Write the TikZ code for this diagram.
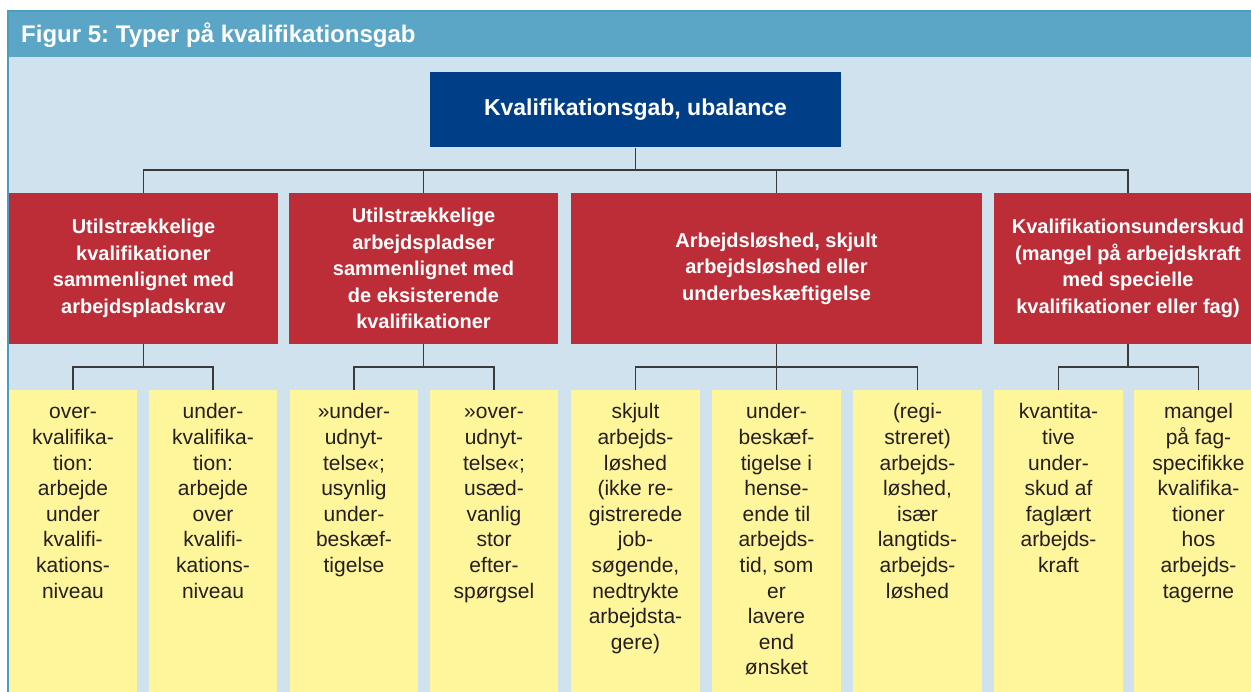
\documentclass[tikz,border=0pt]{standalone}
\usepackage{fontspec}
\setmainfont{Liberation Sans}
\frenchspacing
\definecolor{titlebar}{HTML}{5BA6C6}
\definecolor{frameblue}{HTML}{4A9DBE}
\definecolor{bgblue}{HTML}{CFE2EE}
\definecolor{darkblue}{HTML}{003F87}
\definecolor{boxred}{HTML}{BD2D37}
\definecolor{boxyellow}{HTML}{FFF59B}
\definecolor{linegray}{HTML}{3A3A3A}
\definecolor{textdark}{HTML}{231F20}
\begin{document}
\begin{tikzpicture}[x=1pt,y=-1pt,
  topbox/.style={fill=darkblue, text=white, inner sep=0pt, minimum width=411pt, minimum height=75.5pt, font=\fontsize{23}{28}\selectfont\bfseries},
  redbox/.style={fill=boxred, text=white, inner sep=0pt, minimum height=151pt, align=center, font=\fontsize{20}{26.5}\selectfont\bfseries},
  ybox/.style={fill=boxyellow, inner sep=0pt, minimum width=128.5pt, minimum height=310pt},
  ytext/.style={anchor=north, inner sep=0pt, align=center, text=textdark, font=\fontsize{21}{25.6}\selectfont},
  conn/.style={draw=linegray, line width=1.2pt}
]
\useasboundingbox (0,0) rectangle (1251,692);
\clip (0,0) rectangle (1251,692);
% frame
\fill[bgblue] (8,57) rectangle (1251,692);
\fill[titlebar] (8,10) rectangle (1251,57);
\draw[frameblue, line width=2pt] (8,692) -- (8,11) -- (1251,11);
\node[anchor=base west, inner sep=0pt, text=white, font=\fontsize{24}{28}\selectfont\bfseries] (title) at (21,43) {Figur 5: Typer på kvalifikationsgab};

% top box
\node[topbox] (top) at (635.5,109.75) {Kvalifikationsgab, ubalance};

% red boxes
\node[redbox, minimum width=269pt] (r1) at (143.5,268.5) {Utilstrækkelige\\kvalifikationer\\sammenlignet med\\arbejdspladskrav};
\node[redbox, minimum width=269pt] (r2) at (423.5,268.5) {Utilstrækkelige\\arbejdspladser\\sammenlignet med\\de eksisterende\\kvalifikationer};
\node[redbox, minimum width=411pt] (r3) at (776.5,268.5) {Arbejdsløshed, skjult\\arbejdsløshed eller\\underbeskæftigelse};
\node[redbox, minimum width=268pt] (r4) at (1128,268.5) {Kvalifikationsunderskud\\(mangel på arbejdskraft\\med specielle\\kvalifikationer eller fag)};

% yellow boxes
\node[ybox] (y1) at (73,545) {};
\node[ybox] (y2) at (213,545) {};
\node[ybox] (y3) at (354,545) {};
\node[ybox] (y4) at (494,545) {};
\node[ybox] (y5) at (635.5,545) {};
\node[ybox] (y6) at (776.5,545) {};
\node[ybox] (y7) at (917.5,545) {};
\node[ybox] (y8) at (1058.5,545) {};
\node[ybox] (y9) at (1198.5,545) {};

\node[ytext] (t1) at ([yshift=-11pt]y1.north) {\strut over-\\kvalifika-\\tion:\\arbejde\\under\\kvalifi-\\kations-\\niveau};
\node[ytext] (t2) at ([yshift=-11pt]y2.north) {\strut under-\\kvalifika-\\tion:\\arbejde\\over\\kvalifi-\\kations-\\niveau};
\node[ytext] (t3) at ([yshift=-11pt]y3.north) {\strut »under-\\udnyt-\\telse«;\\usynlig\\under-\\beskæf-\\tigelse};
\node[ytext] (t4) at ([yshift=-11pt]y4.north) {\strut »over-\\udnyt-\\telse«;\\usæd-\\vanlig\\stor\\efter-\\spørgsel};
\node[ytext] (t5) at ([yshift=-11pt]y5.north) {\strut skjult\\arbejds-\\løshed\\(ikke re-\\gistrerede\\job-\\søgende,\\nedtrykte\\arbejdsta-\\gere)};
\node[ytext] (t6) at ([yshift=-11pt]y6.north) {\strut under-\\beskæf-\\tigelse i\\hense-\\ende til\\arbejds-\\tid, som\\er\\lavere\\end\\ønsket};
\node[ytext] (t7) at ([yshift=-11pt]y7.north) {\strut (regi-\\streret)\\arbejds-\\løshed,\\især\\langtids-\\arbejds-\\løshed};
\node[ytext] (t8) at ([yshift=-11pt]y8.north) {\strut kvantita-\\tive\\under-\\skud af\\faglært\\arbejds-\\kraft};
\node[ytext] (t9) at ([yshift=-11pt]y9.north) {\strut mangel\\på fag-\\specifikke\\kvalifika-\\tioner\\hos\\arbejds-\\tagerne};

% bus coordinates
\coordinate (bus0) at (0,170);
\coordinate (bus1) at (0,367);

% connectors level 1
\draw[conn] (top.south) -- (top.south |- bus0) -| (r1.north);
\draw[conn] (top.south |- bus0) -| (r2.north);
\draw[conn] (top.south |- bus0) -| (r3.north);
\draw[conn] (top.south |- bus0) -| (r4.north);

% connectors level 2
\draw[conn] (r1.south) -- (r1.south |- bus1) -| (y1.north);
\draw[conn] (r1.south |- bus1) -| (y2.north);
\draw[conn] (r2.south) -- (r2.south |- bus1) -| (y3.north);
\draw[conn] (r2.south |- bus1) -| (y4.north);
\draw[conn] (r3.south) -- (r3.south |- bus1) -| (y5.north);
\draw[conn] (r3.south |- bus1) -- (y6.north);
\draw[conn] (r3.south |- bus1) -| (y7.north);
\draw[conn] (r4.south) -- (r4.south |- bus1) -| (y8.north);
\draw[conn] (r4.south |- bus1) -| (y9.north);
\end{tikzpicture}
\end{document}
